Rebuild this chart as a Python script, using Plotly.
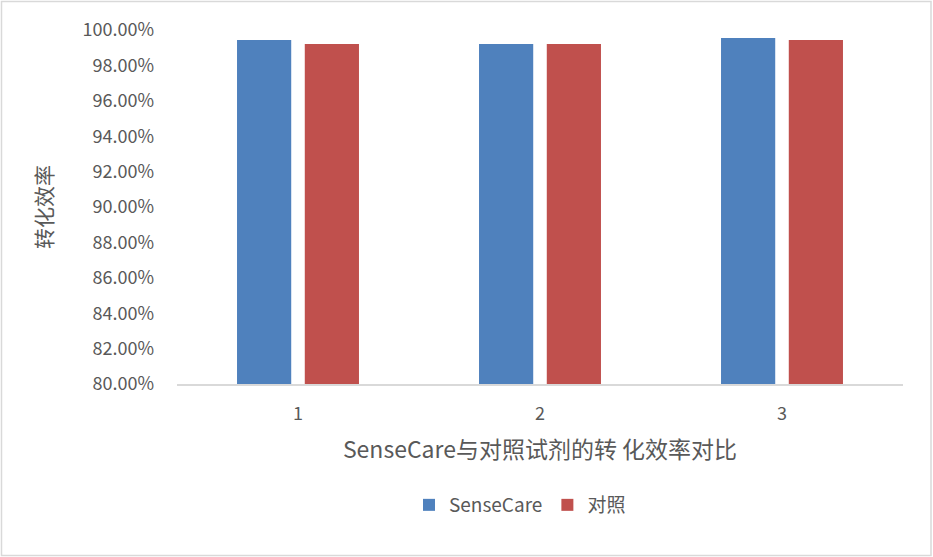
import plotly.graph_objects as go

categories = ["1", "2", "3"]
sensecare = [0.9944, 0.9921, 0.9955]
control = [0.9921, 0.9921, 0.9944]
series_names = ["SenseCare", "对照"]
colors = ["#4F81BD", "#C0504D"]

W, H = 933, 557
L, R, T, B = 177, 30, 30, 173
pw, ph = W - L - R, H - T - B

def px(x):
    return (x - L) / pw

def py(y):
    return (H - B - y) / ph

font_fam = "Noto Sans CJK SC, Noto Sans, sans-serif"
grey = "#595959"

fig = go.Figure()
for name, vals, col in zip(series_names, [sensecare, control], colors):
    fig.add_trace(go.Bar(x=categories, y=vals, name=name, marker=dict(color=col, line=dict(width=0))))

fig.update_layout(
    width=W, height=H,
    margin=dict(l=L, r=R, t=T, b=B),
    paper_bgcolor="white", plot_bgcolor="white",
    barmode="group", bargap=0.44, bargroupgap=0.2,
    font=dict(family=font_fam, color=grey),
    showlegend=True,
    legend=dict(orientation="h", x=px(520), xanchor="center", y=py(505), yanchor="middle",
                font=dict(size=19, color=grey), itemwidth=30, traceorder="normal"),
    xaxis=dict(showline=True, linecolor="#D9D9D9", linewidth=2, ticks="", showgrid=False,
               tickfont=dict(size=18, color=grey), ticklabelstandoff=12,
               title=dict(text="SenseCare与对照试剂的转 化效率对比", font=dict(size=23, color=grey), standoff=18)),
    yaxis=dict(range=[0.8, 1.0], dtick=0.02, tickformat=".2%", showgrid=False, showline=False,
               zeroline=False, ticks="", ticklabelstandoff=22,
               tickfont=dict(size=18, color=grey),
               title=dict(text="转化效率", font=dict(size=21, color=grey), standoff=24)),
    shapes=[dict(type="rect", xref="paper", yref="paper",
                 x0=px(1.5), x1=px(931), y0=py(555.5), y1=py(1.5),
                 line=dict(color="#D9D9D9", width=1.5), fillcolor="rgba(0,0,0,0)", layer="below")],
)

fig.write_html("out.html", config={"displayModeBar": False},
               post_script="document.body.style.margin='0';document.body.style.overflow='hidden';")
